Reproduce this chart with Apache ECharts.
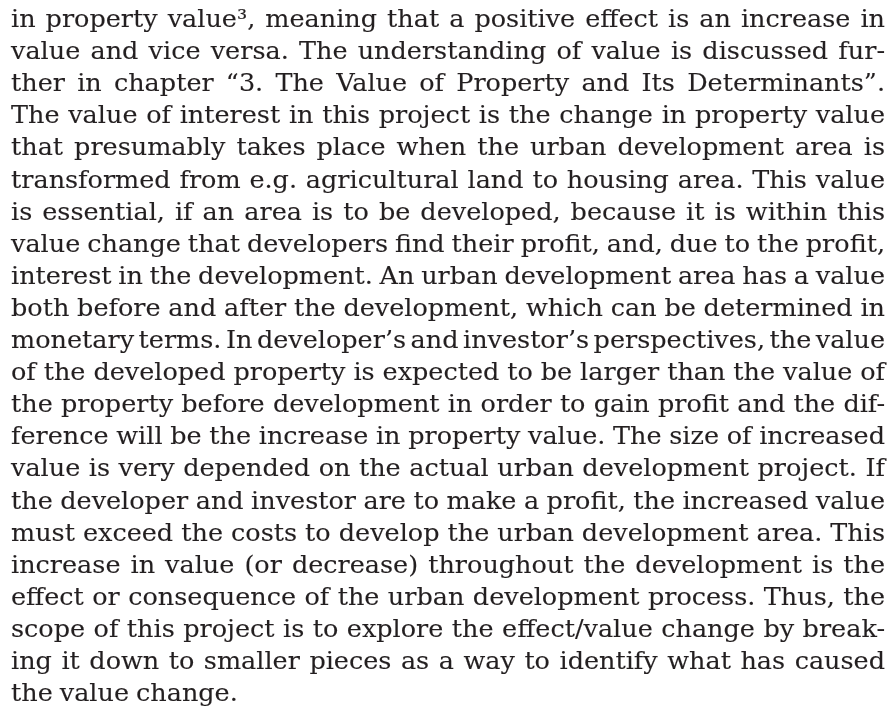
<!DOCTYPE html>
<html><head><meta charset="utf-8">
<script src="https://cdn.jsdelivr.net/npm/echarts@6/dist/echarts.min.js"></script>
<style>html,body{margin:0;padding:0;background:#fff}#c{width:891px;height:707px}</style>
</head><body><div id="c"></div>
<script>
const lines = [
  "in property value\u00b3, meaning that a positive effect is an increase in",
  "value and vice versa. The understanding of value is discussed fur-",
  "ther in chapter \u201c3. The Value of Property and Its Determinants\u201d.",
  "The value of interest in this project is the change in property value",
  "that presumably takes place when the urban development area is",
  "transformed from e.g. agricultural land to housing area. This value",
  "is essential, if an area is to be developed, because it is within this",
  "value change that developers find their profit, and, due to the profit,",
  "interest in the development. An urban development area has a value",
  "both before and after the development, which can be determined in",
  "monetary terms. In developer\u2019s and investor\u2019s perspectives, the value",
  "of the developed property is expected to be larger than the value of",
  "the property before development in order to gain profit and the dif-",
  "ference will be the increase in property value. The size of increased",
  "value is very depended on the actual urban development project. If",
  "the developer and investor are to make a profit, the increased value",
  "must exceed the costs to develop the urban development area. This",
  "increase in value (or decrease) throughout the development is the",
  "effect or consequence of the urban development process. Thus, the",
  "scope of this project is to explore the effect/value change by break-",
  "ing it down to smaller pieces as a way to identify what has caused",
  "the value change."
];

const chart = echarts.init(document.getElementById('c'), null, {renderer: 'canvas'});
const FS = 24;
const font = FS + 'px "DejaVu Serif"';
const ctx = document.createElement('canvas').getContext('2d');
ctx.font = font;
const left = 11, right = 885, W = right - left;
const base0 = 27.5, step = 32.1;
const minSpace = 4.5;
const midOffset = 0.28 * FS;

const wordsPer = lines.map(l => l.split(' '));
const widthsPer = wordsPer.map(ws => ws.map(w => ctx.measureText(w).width));
let s = Infinity;
wordsPer.forEach((ws, i) => {
  if (i === lines.length - 1) return;
  const sum = widthsPer[i].reduce((a, b) => a + b, 0);
  const need = (W - (ws.length - 1) * minSpace) / sum;
  if (need < s) s = need;
});
const spaceW = 7;

const elements = [];
wordsPer.forEach((ws, i) => {
  const ww = widthsPer[i].map(w => w * s);
  const sum = ww.reduce((a, b) => a + b, 0);
  const last = i === lines.length - 1;
  const gap = last ? spaceW : (W - sum) / (ws.length - 1);
  let x = left;
  const y = base0 + i * step - midOffset;
  ws.forEach((w, j) => {
    elements.push({
      type: 'text', x: x, y: y, scaleX: s, silent: true,
      style: {x: 0, y: 0, text: w, font: font, fill: '#231f20',
              stroke: '#231f20', lineWidth: 0.12, textVerticalAlign: 'middle'}
    });
    x += ww[j] + gap;
  });
});

chart.setOption({backgroundColor: '#ffffff', graphic: {elements: elements}});
</script>
</body></html>
